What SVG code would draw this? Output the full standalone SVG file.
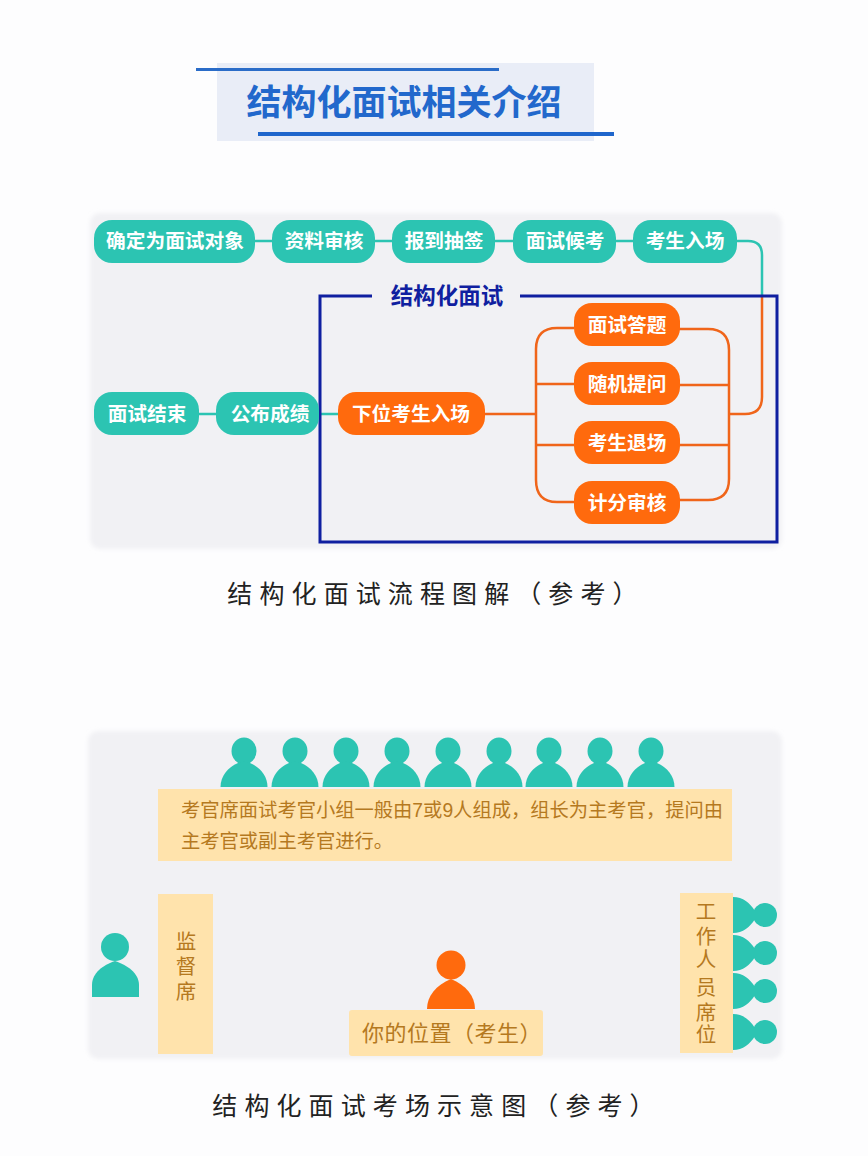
<svg xmlns="http://www.w3.org/2000/svg" width="868" height="1156" viewBox="0 0 868 1156">
<style>
text{font-family:"Liberation Sans","Noto Sans CJK SC",sans-serif}
.panel{fill:#f1f1f4;filter:url(#soft)}
.tn{fill:#2cc4b2}
.on{fill:#ff6a0d}
.nt{fill:#fff;font-size:19.700px;font-weight:700;text-anchor:middle;dominant-baseline:central}
.cap{fill:#222;font-size:25px;letter-spacing:7.100px;text-anchor:middle}
.note{fill:#ffe3ac}
.nt2{fill:#b5791f;font-size:19.300px}
.vt{fill:#b5791f;font-size:20.500px;text-anchor:middle}
.t{fill:none;stroke:#2cc4b2;stroke-width:2.500}
.o{fill:none;stroke:#f0651a;stroke-width:2.500}
.p{fill:#2cc4b2}
</style>
<defs>
<filter id="soft" x="-5%" y="-5%" width="110%" height="110%"><feGaussianBlur stdDeviation="2"/></filter>
<g id="person"><ellipse cx="0" cy="-36" rx="12.500" ry="13.500"/><path d="M-23.500 0C-23.500-11-16-20-6-24L0-26L6-24C16-20 23.500-11 23.500 0Z"/></g>
<g id="staffer"><circle cx="32" cy="0" r="12"/><path d="M0-18C10-18 17-12 22-4L26 0L22 4C17 12 10 18 0 18Z"/></g>
</defs>
<rect width="868" height="1156" fill="#fdfdfe"/>
<g id="title">
<rect x="217" y="63" width="377" height="78" fill="#e9edf7"/>
<rect x="196" y="68" width="303" height="3" fill="#2a6cc8"/>
<rect x="258" y="132" width="356" height="4" fill="#1f66cc"/>
<text x="404" y="115" font-size="35" font-weight="700" fill="#2268cc" text-anchor="middle">结构化面试相关介绍</text>
</g>
<rect id="panel1" class="panel" x="90" y="213" width="692" height="336" rx="10"/>
<rect id="panel2" class="panel" x="88" y="731" width="694" height="328" rx="10"/>
<g id="connectors">
<path class="t" d="M255 241H272M375 241H392M495 241H513M615 241H633M737 241H748Q762 241 762 255V296"/>
<path class="t" d="M199 414H216M319 414H338"/>
<path class="o" d="M485 414H536M536 414V349Q536 328 557 328H574M536 384H574M536 445H574M536 414V480Q536 502 557 502H574"/>
<path class="o" d="M679 329H708Q729 329 729 350V479Q729 500 708 500H679M679 385H729M679 445H729M729 414H745Q762 414 762 397V296"/>
</g>
<g id="frame">
<path d="M372 296H320V542H777V296H520" fill="none" stroke="#0f1fa0" stroke-width="3"/>
<text x="447" y="304" font-size="22.500" font-weight="700" fill="#101fa0" text-anchor="middle">结构化面试</text>
</g>
<g id="n1"><rect class="tn" x="94" y="220" width="161" height="43" rx="18"/><text class="nt" x="175" y="241">确定为面试对象</text></g>
<g id="n2"><rect class="tn" x="272" y="220" width="103" height="43" rx="18"/><text class="nt" x="324" y="241">资料审核</text></g>
<g id="n3"><rect class="tn" x="392" y="220" width="103" height="43" rx="18"/><text class="nt" x="444" y="241">报到抽签</text></g>
<g id="n4"><rect class="tn" x="513" y="220" width="103" height="43" rx="18"/><text class="nt" x="565" y="241">面试候考</text></g>
<g id="n5"><rect class="tn" x="633" y="220" width="104" height="43" rx="18"/><text class="nt" x="685" y="241">考生入场</text></g>
<g id="n6"><rect class="tn" x="94" y="392" width="105" height="43" rx="18"/><text class="nt" x="147" y="414">面试结束</text></g>
<g id="n7"><rect class="tn" x="216" y="392" width="103" height="43" rx="18"/><text class="nt" x="270" y="414">公布成绩</text></g>
<g id="n8"><rect class="on" x="338" y="392" width="147" height="43" rx="18"/><text class="nt" x="411" y="414">下位考生入场</text></g>
<g id="n9"><rect class="on" x="574" y="303" width="106" height="43" rx="18"/><text class="nt" x="627" y="325">面试答题</text></g>
<g id="n10"><rect class="on" x="574" y="362" width="106" height="43" rx="18"/><text class="nt" x="627" y="384">随机提问</text></g>
<g id="n11"><rect class="on" x="574" y="421" width="106" height="43" rx="18"/><text class="nt" x="627" y="443">考生退场</text></g>
<g id="n12"><rect class="on" x="574" y="481" width="106" height="43" rx="18"/><text class="nt" x="627" y="503">计分审核</text></g>
<text class="cap" x="436" y="603">结构化面试流程图解（参考）</text>
<g id="examiners" class="p">
<use href="#person" x="244" y="787"/><use href="#person" x="295" y="787"/><use href="#person" x="346" y="787"/><use href="#person" x="397" y="787"/><use href="#person" x="448" y="787"/><use href="#person" x="499" y="787"/><use href="#person" x="549" y="787"/><use href="#person" x="600" y="787"/><use href="#person" x="651" y="787"/>
</g>
<g id="examiner-note">
<rect class="note" x="158" y="789" width="574" height="72"/>
<text class="nt2" x="181" y="817">考官席面试考官小组一般由7或9人组成，组长为主考官，提问由</text>
<text class="nt2" x="181" y="848">主考官或副主考官进行。</text>
</g>
<g id="supervisor-person" class="p"><ellipse cx="115" cy="947" rx="14" ry="14"/><path d="M92 997V985C92 973 103 965 115 961C127 965 139 973 139 985V997Z"/></g>
<g id="supervisor-seat">
<rect class="note" x="158" y="894" width="55" height="160"/>
<text class="vt" x="186" y="949">监</text><text class="vt" x="186" y="974">督</text><text class="vt" x="186" y="999">席</text>
</g>
<g id="candidate" fill="#ff6a0d"><ellipse cx="451" cy="965" rx="14.500" ry="14.500"/><path d="M427 1009C427 996 436 985 451 979C466 985 475 996 475 1009Z"/></g>
<g id="candidate-seat">
<rect class="note" x="349" y="1010" width="194" height="46" rx="3"/>
<text x="452" y="1041" font-size="22" letter-spacing="0.500" fill="#b5791f" text-anchor="middle">你的位置（考生）</text>
</g>
<g id="staff" class="p">
<use href="#staffer" x="733" y="915"/><use href="#staffer" x="733" y="953"/><use href="#staffer" x="733" y="991"/><use href="#staffer" x="733" y="1032"/>
</g>
<g id="staff-seat">
<rect class="note" x="680" y="893" width="53" height="160"/>
<text class="vt" x="706" y="919">工</text><text class="vt" x="706" y="944">作</text><text class="vt" x="706" y="967">人</text><text class="vt" x="706" y="995">员</text><text class="vt" x="706" y="1020">席</text><text class="vt" x="706" y="1042">位</text>
</g>
<text class="cap" x="437" y="1115">结构化面试考场示意图（参考）</text>
</svg>
